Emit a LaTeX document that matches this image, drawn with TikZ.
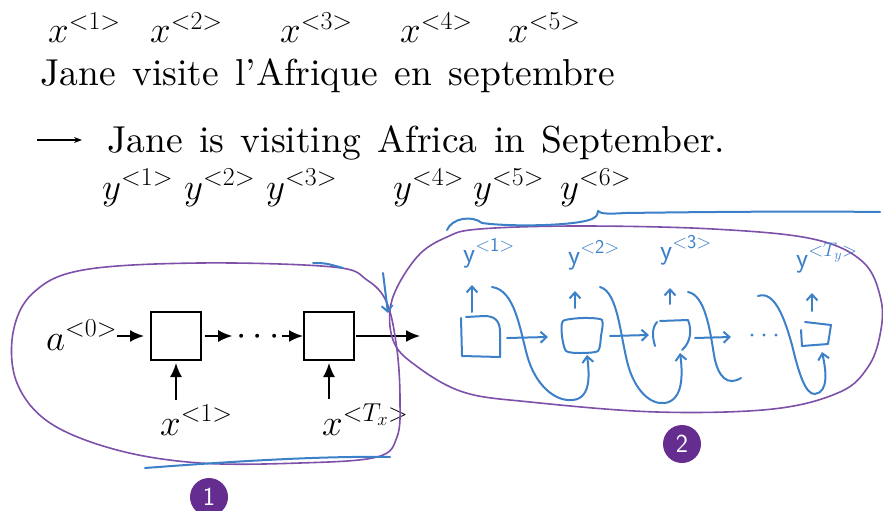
\RequirePackage{fix-cm}
\documentclass[tikz,border=0pt]{standalone}
\usepackage{fontspec}
\setmainfont{lmroman10-regular.otf}
\usetikzlibrary{arrows.meta}
\definecolor{pen}{RGB}{60,128,200}
\definecolor{loopc}{RGB}{125,80,170}
\definecolor{badge}{RGB}{102,45,145}
\newcommand{\widesp}{\spaceskip=16.5pt\relax}
\tikzset{
 big/.style={font=\fontsize{37}{44}\selectfont, inner sep=0pt, anchor=base west},
 words/.style={font=\fontsize{37.5}{44}\selectfont, inner sep=0pt, anchor=base west},
 cell/.style={draw, line width=2pt, minimum width=50pt, minimum height=48pt, inner sep=0pt},
 arr/.style={line width=1.8pt, -{Latex[length=14pt,width=12pt]}},
 penline/.style={draw=pen, line width=2pt, line cap=round, line join=round},
 penarr/.style={penline, -{Straight Barb[length=6pt,width=11pt]}},
 loopline/.style={draw=loopc, line width=1.6pt},
 hand/.style={text=pen, font=\fontsize{28}{32}\selectfont, inner sep=0pt, anchor=base west},
 badgec/.style={circle, fill=badge, text=white, font=\sffamily\fontsize{26}{30}\selectfont, minimum size=38pt, inner sep=0pt},
}
\begin{document}
\begin{tikzpicture}[x=1pt,y=-1pt]
\useasboundingbox (0,0) rectangle (883,511);
% ---- top rows ----
\node[big] (x1) at (48,43) {$x^{<1>}$};
\node[big] (x2) at (150,43) {$x^{<2>}$};
\node[big] (x3) at (280,43) {$x^{<3>}$};
\node[big] (x4) at (400,43) {$x^{<4>}$};
\node[big] (x5) at (508,43) {$x^{<5>}$};
\node[words] (fr) at (40,85) {\widesp Jane visite l’Afrique en septembre};
\coordinate (ea) at (37,140);
\coordinate (eb) at (82,140);
\draw[line width=1.2pt,-{Stealth[length=8pt,width=6pt]}] (ea) -- (eb);
\node[words] (en) at (107,152) {\widesp Jane is visiting Africa in September.};
\node[big] (y1) at (102,199) {$y^{<1>}$};
\node[big] (y2) at (184,199) {$y^{<2>}$};
\node[big] (y3) at (266,199) {$y^{<3>}$};
\node[big] (y4) at (393,199) {$y^{<4>}$};
\node[big] (y5) at (473,199) {$y^{<5>}$};
\node[big] (y6) at (560,199) {$y^{<6>}$};
% ---- encoder ----
\node[cell] (box1) at (176,336) {};
\node[cell] (box2) at (329,336) {};
\node[big] (a0) at (46,350) {$a^{<0>}$};
\node[font=\fontsize{37}{44}\selectfont, inner sep=0pt, anchor=base] (dots) at (258,345) {$\cdots$};
\node[big] (xl1) at (160,435) {$x^{<1>}$};
\node[big] (xlT) at (322,435) {$x^{<T_x>}$};
\coordinate (enc) at (420,336);
\draw[arr, shorten >=6pt] (a0.east |- box1.west) -- (box1.west);
\draw[arr, shorten <=3pt, shorten >=4pt] (box1.east) -- (dots.west |- box1.east);
\draw[arr, shorten <=2pt] (dots.east |- box2.west) -- (box2.west);
\draw[arr, shorten <=1pt] (box2.east) -- (enc);
\draw[arr, shorten <=5pt, shorten >=2pt] (box1 |- xl1.north) -- (box1.south);
\draw[arr, shorten <=5pt, shorten >=2pt] (box2 |- xlT.north) -- (box2.south);
% ---- loops ----
\draw[loopline] plot[smooth cycle, tension=0.6] coordinates {(83,270) (200,263) (333,267) (367,280) (387,303) (397,350) (400,400) (397,437) (377,457) (300,463) (200,463) (117,450) (50,423) (17,383) (13,333) (33,293)};
\draw[loopline] plot[smooth cycle, tension=0.6] coordinates {(392,300) (417,257) (447,237) (480,229) (580,226) (713,229) (813,239) (863,262) (881,300) (880,335) (868,367) (840,392) (773,409) (657,412) (530,402) (463,392) (415,365) (393,340)};
% ---- decoder (hand drawn) ----
\draw[penline] (461,318) -- (462,356) -- (500,357) -- (500,332) .. controls (500,320) and (494,316) .. (484,316) -- (466,317);
\draw[penline] plot[smooth cycle, tension=0.4] coordinates {(563,321) (583,318) (602,320) (601,336) (598,351) (580,353) (566,351) (562,336)};
\draw[penline] (655,346) .. controls (652,336) and (652,328) .. (657,322);
\draw[penline] (660,321) -- (688,320) .. controls (692,330) and (691,342) .. (682,350);
\draw[penline] (801,330) -- (802,346) -- (828,344) -- (831,325) -- (805,322);
\draw[penarr] (472,312) -- (472,285);
\draw[penarr] (575,308) -- (575,291);
\draw[penarr] (670,304) -- (670,288);
\draw[penarr] (812,311) -- (812,293);
\draw[penarr] (507,338) -- (548,337);
\draw[penarr] (610,336) -- (649,335);
\draw[penarr] (695,338) -- (731,337);
\foreach \d in {752,764,776} \fill[pen] (\d,335) circle (1.6pt);
\draw[penarr] (492,287) .. controls (515,290) and (520,330) .. (527,355) .. controls (535,385) and (555,402) .. (573,400) .. controls (592,398) and (589,372) .. (587,355);
\draw[penarr] (600,287) .. controls (618,292) and (620,335) .. (628,365) .. controls (635,390) and (650,405) .. (665,403) .. controls (683,400) and (683,375) .. (680,353);
\draw[penline] (688,292) .. controls (705,295) and (710,330) .. (714,355) .. controls (718,378) and (728,386) .. (741,378);
\draw[penarr] (758,296) .. controls (775,290) and (785,320) .. (792,345) .. controls (798,370) and (805,395) .. (815,394) .. controls (829,392) and (826,370) .. (822,352);
\node[hand] (hy1) at (463,262) {$\mathsf{y}^{<\mathsf{1}>}$};
\node[hand] (hy2) at (568,264) {$\mathsf{y}^{<\mathsf{2}>}$};
\node[hand] (hy3) at (660,259) {$\mathsf{y}^{<\mathsf{3}>}$};
\node[hand] (hyT) at (796,267) {$\mathsf{y}^{<T_y>}$};
% ---- pen marks ----
\draw[penline] (447,230) .. controls (452,218) and (472,215) .. (482,223) .. controls (510,227) and (575,226) .. (592,219) .. controls (597,216) .. (598,211) .. controls (600,214) and (610,214) .. (625,213) .. controls (700,212) and (800,211) .. (880,212);
\draw[penline] (145,468) .. controls (250,460) and (330,456) .. (390,457);
\draw[penline] (313,263) .. controls (325,263) .. (343,268);
\draw[penarr] (383,273) -- (388,313);
% ---- badges ----
\node[badgec] (b1) at (209,497) {1};
\node[badgec] (b2) at (682,444) {2};
\end{tikzpicture}
\end{document}
